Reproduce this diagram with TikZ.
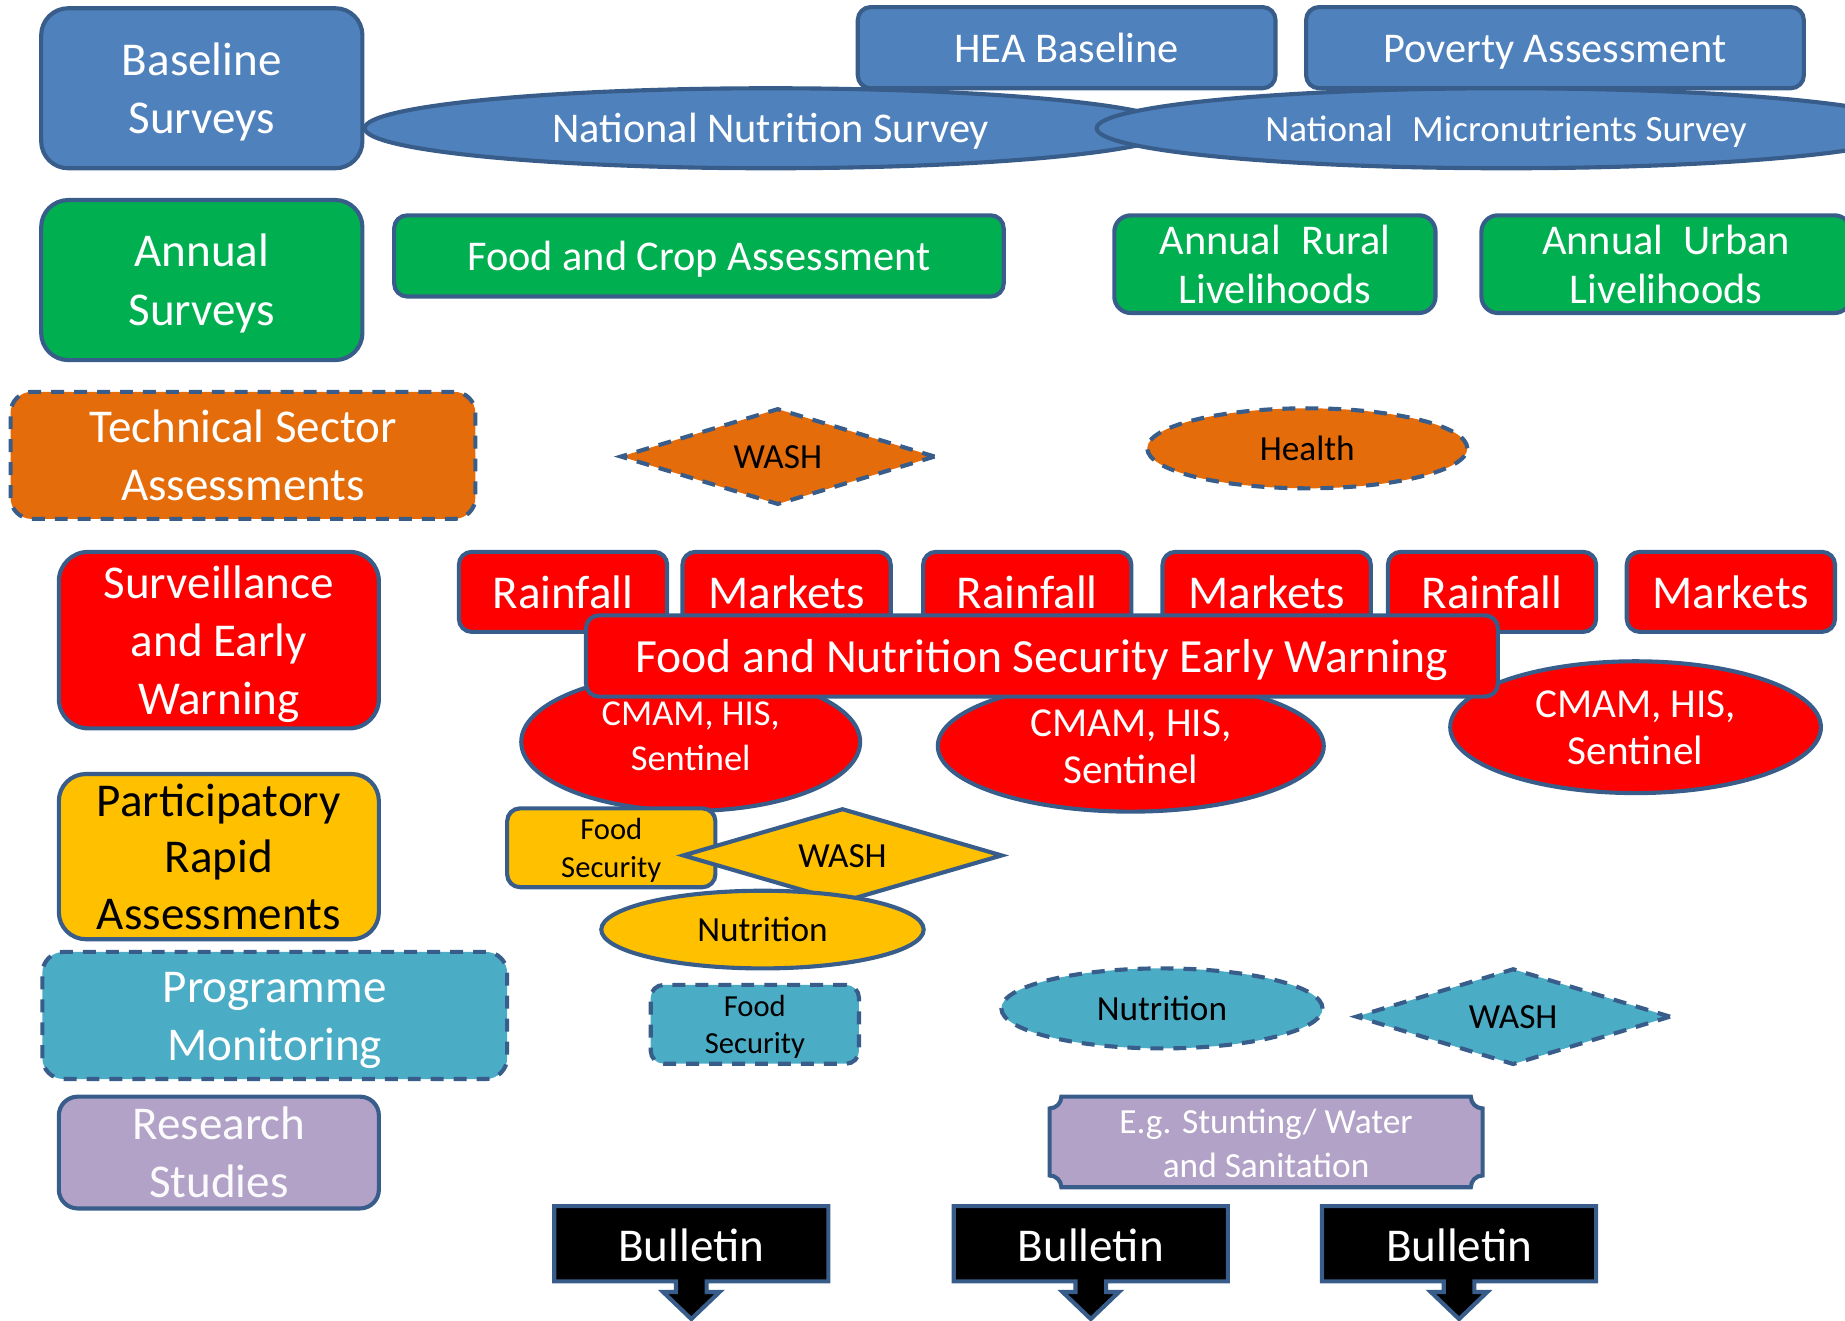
\documentclass[tikz,border=0pt]{standalone}
\usepackage{fontspec}
\setmainfont{Carlito}
\usetikzlibrary{shapes.geometric}
\definecolor{bd}{HTML}{385D8A}
\definecolor{cblue}{HTML}{4F81BD}
\definecolor{cgreen}{HTML}{00B050}
\definecolor{corange}{HTML}{E46C0A}
\definecolor{cred}{HTML}{FF0000}
\definecolor{cyellow}{HTML}{FFC000}
\definecolor{cteal}{HTML}{4BACC6}
\definecolor{cpurple}{HTML}{B2A2C7}
\newcommand{\fsz}[2]{\fontsize{#1}{#2}\selectfont}
\newcommand{\mytop}{\rule{0pt}{0.9em}}
\newcommand{\mybot}[1][0.21]{\rule[-#1em]{0pt}{0pt}}
\begin{document}
\begin{tikzpicture}[x=1pt,y=-1pt,
  base/.style={draw=bd, line width=3.5pt, inner sep=0pt, align=center, text=white},
  rbox/.style={base, rectangle, rounded corners=#1},
  ell/.style={base, ellipse},
  dia/.style={base, diamond, aspect=3.3},
  dsh/.style={dash pattern=on 11pt off 8.5pt},
  callout/.style={draw=bd, line width=3.5pt, fill=black, line join=miter}
]
\useasboundingbox (0,0) rectangle (1568,1122);
\clip (0,0) rectangle (1568,1122);

% ---- Baseline (blue)
\node[rbox=23pt, fill=cblue, minimum width=273pt, minimum height=136pt, font=\fsz{40}{50}] (bs) at (171.5,75) {\mytop Baseline\\Surveys\mybot};
\node[rbox=11pt, fill=cblue, minimum width=355pt, minimum height=69pt, font=\fsz{36}{44}] (hea) at (906.5,40.5) {\mytop HEA Baseline\mybot};
\node[rbox=11pt, fill=cblue, minimum width=423pt, minimum height=69pt, font=\fsz{36}{44}] (pov) at (1321.5,40.5) {\mytop Poverty Assessment\mybot};
\node[ell, fill=cblue, minimum width=690pt, minimum height=68pt, font=\fsz{36}{44}] (nns) at (655,109) {\mytop National Nutrition Survey\mybot};
\node[ell, fill=cblue, minimum width=696pt, minimum height=68pt, font=\fsz{31.5}{38}] (nms) at (1280,109) {\mytop National\hspace{0.3em} Micronutrients Survey\mybot};

% ---- Annual (green)
\node[rbox=23pt, fill=cgreen, minimum width=273pt, minimum height=136pt, font=\fsz{40}{50}] (as) at (171.5,238) {\mytop Annual\\Surveys\mybot};
\node[rbox=11pt, fill=cgreen, minimum width=518pt, minimum height=69pt, font=\fsz{36}{44}] (fca) at (594,217.5) {\mytop Food and Crop Assessment\mybot};
\node[rbox=14pt, fill=cgreen, minimum width=273pt, minimum height=83pt, font=\fsz{36}{42}] (arl) at (1083.5,224.5) {\mytop Annual\hspace{0.25em} Rural\\Livelihoods\mybot};
\node[rbox=14pt, fill=cgreen, minimum width=314pt, minimum height=83pt, font=\fsz{36}{42}] (aul) at (1416,224.5) {\mytop Annual\hspace{0.25em} Urban\\Livelihoods\mybot};

% ---- Technical sector (orange)
\node[rbox=18pt, dsh, fill=corange, minimum width=395pt, minimum height=108pt, font=\fsz{40}{49}] (tsa) at (206.5,387) {\mytop Technical Sector\\Assessments\mybot};
\node[dia, dsh, fill=corange, text=black, minimum width=268pt, minimum height=82pt, font=\fsz{30}{36}] (washo) at (661,388) {\mytop WASH\mybot};
\node[ell, dsh, fill=corange, text=black, minimum width=272pt, minimum height=68pt, font=\fsz{30}{36}] (health) at (1111,381) {\mytop Health\mybot};

% ---- Surveillance (red)
\node[rbox=25pt, fill=cred, minimum width=272pt, minimum height=150pt, font=\fsz{40}{49}] (sew) at (186,544) {\mytop Surveillance\\and Early\\Warning\mybot};
\node[rbox=11pt, fill=cred, minimum width=177pt, minimum height=68pt, font=\fsz{40}{48}] (r1) at (478.5,503) {\mytop Rainfall\mybot};
\node[rbox=11pt, fill=cred, minimum width=177pt, minimum height=68pt, font=\fsz{40}{48}] (m1) at (668.5,503) {\mytop Markets\mybot};
\node[rbox=11pt, fill=cred, minimum width=177pt, minimum height=68pt, font=\fsz{40}{48}] (r2) at (873,503) {\mytop Rainfall\mybot};
\node[rbox=11pt, fill=cred, minimum width=177pt, minimum height=68pt, font=\fsz{40}{48}] (m2) at (1076.5,503) {\mytop Markets\mybot};
\node[rbox=11pt, fill=cred, minimum width=177pt, minimum height=68pt, font=\fsz{40}{48}] (r3) at (1268,503) {\mytop Rainfall\mybot};
\node[rbox=11pt, fill=cred, minimum width=177pt, minimum height=68pt, font=\fsz{40}{48}] (m3) at (1471,503) {\mytop Markets\mybot};
\node[ell, fill=cred, minimum width=288pt, minimum height=111pt, font=\fsz{31}{38}] (c1) at (587,630.5) {\mytop CMAM, HIS,\\Sentinel\mybot[0.55]};
\node[ell, fill=cred, minimum width=328pt, minimum height=108pt, font=\fsz{35}{40}] (c2) at (961,634) {\mytop CMAM, HIS,\\Sentinel\mybot};
\node[ell, fill=cred, minimum width=315pt, minimum height=112pt, font=\fsz{35}{40}] (c3) at (1390,618) {\mytop CMAM, HIS,\\Sentinel\mybot};
\node[rbox=11pt, fill=cred, minimum width=775pt, minimum height=69pt, font=\fsz{40.5}{48}] (fnsew) at (885.5,557.5) {\mytop Food and Nutrition Security Early Warning\mybot};

% ---- Participatory (yellow)
\node[rbox=23pt, fill=cyellow, text=black, minimum width=272pt, minimum height=138pt, font=\fsz{40}{48}] (pra) at (186,728) {\mytop Participatory\\Rapid\\Assessments\mybot};
\node[rbox=11pt, fill=cyellow, text=black, minimum width=177pt, minimum height=67pt, font=\fsz{26}{32}] (fsy) at (519.5,720.5) {\mytop Food\\Security\mybot};
\node[dia, fill=cyellow, text=black, minimum width=272pt, minimum height=80pt, font=\fsz{30}{36}] (washy) at (716,727) {\mytop WASH\mybot};
\node[ell, fill=cyellow, text=black, minimum width=274pt, minimum height=66pt, font=\fsz{30}{36}] (nuty) at (648,790) {\mytop Nutrition\mybot};

% ---- Programme monitoring (teal)
\node[rbox=18pt, dsh, fill=cteal, minimum width=395pt, minimum height=108pt, font=\fsz{40}{49}] (pm) at (233.5,863) {\mytop Programme\\Monitoring\mybot};
\node[rbox=11pt, dsh, fill=cteal, text=black, minimum width=177pt, minimum height=67pt, font=\fsz{26}{32}] (fst) at (641.5,870.5) {\mytop Food\\Security\mybot};
\node[ell, dsh, fill=cteal, text=black, minimum width=273pt, minimum height=68pt, font=\fsz{30}{36}] (nutt) at (987.5,857) {\mytop Nutrition\mybot};
\node[dia, dsh, fill=cteal, text=black, minimum width=268pt, minimum height=82pt, font=\fsz{30}{36}] (washt) at (1286,864) {\mytop WASH\mybot};

% ---- Research (purple)
\node[rbox=16pt, fill=cpurple, text=white!95!cpurple, minimum width=272pt, minimum height=95pt, font=\fsz{40}{49}] (rs) at (186,979.5) {\mytop Research\\Studies\mybot};
\draw[draw=bd, line width=3.5pt, fill=cpurple]
  (902,932) -- (1250,932) .. controls (1250,937.5) and (1254.5,942) .. (1260,942)
  -- (1260,999) .. controls (1254.5,999) and (1250,1003.5) .. (1250,1009)
  -- (902,1009) .. controls (902,1003.5) and (897.5,999) .. (892,999)
  -- (892,942) .. controls (897.5,942) and (902,937.5) .. (902,932) -- cycle;
\node[align=center, text=white, font=\fsz{30}{37}] (eg) at (1076,971.5) {\mytop E.g. Stunting/ Water\\and Sanitation\mybot};

% ---- Bulletins
\foreach \cx/\nm in {587.5/b1, 927/b2, 1240/b3} {
  \draw[callout] (\cx-116.5,1025) -- (\cx+116.5,1025) -- (\cx+116.5,1089) -- (\cx+13,1089)
    -- (\cx+13,1098) -- (\cx+24,1098) -- (\cx,1121) -- (\cx-24,1098) -- (\cx-13,1098)
    -- (\cx-13,1089) -- (\cx-116.5,1089) -- cycle;
  \node[font=\fsz{40}{48}, text=white] (\nm) at (\cx,1058) {\mytop Bulletin\mybot};
}
\end{tikzpicture}
\end{document}
